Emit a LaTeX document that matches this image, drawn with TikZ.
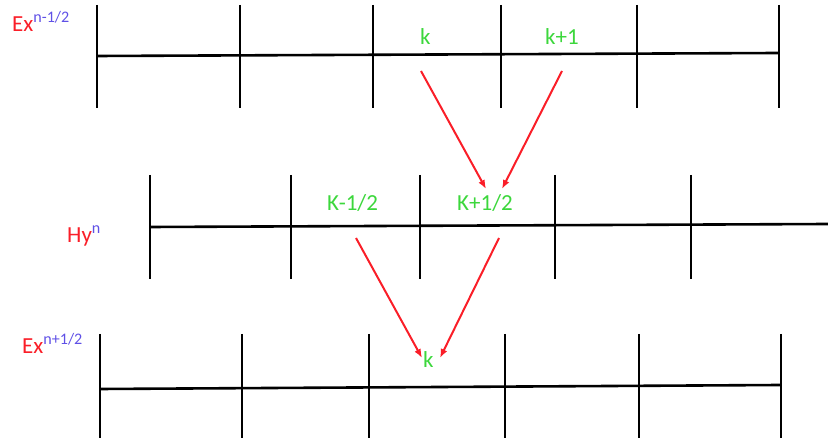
\documentclass[tikz,border=0pt]{standalone}
\usepackage{fontspec}
\setmainfont{Carlito}
\usepackage{xcolor}
\usepackage{tikz}
\usetikzlibrary{arrows.meta}

\definecolor{labred}{RGB}{250,30,40}
\definecolor{supblue}{RGB}{95,80,230}
\definecolor{idxgreen}{RGB}{60,215,60}

\begin{document}
\begin{tikzpicture}[
  x=1pt, y=-1pt,
  font=\fontsize{23}{27}\selectfont,
  grid/.style={line width=2.6pt, black},
  field/.style={anchor=base west, inner sep=0pt, text=labred},
  idx/.style={anchor=base west, inner sep=0pt, text=idxgreen},
  update/.style={-{Latex[length=9pt, width=7pt]}, line width=2pt, labred}
]
\useasboundingbox (0,0) rectangle (828,443);
% three staggered grids
\draw[grid] (97,56) -- (778,53);
\foreach \x in {97,240,373,501,637,779}
  \draw[grid] (\x,5) -- (\x,108);
\draw[grid] (150,227) -- (828,224);
\foreach \x in {150,291,420,555,691}
  \draw[grid] (\x,175) -- (\x,279);
\draw[grid] (100,389) -- (780,385);
\foreach \x in {100,242,369,505,639,781}
  \draw[grid] (\x,334) -- (\x,438);
% field names
\node[field] (exold) at (12,32) {Ex\textsuperscript{\color{supblue}n-1/2}};
\node[field] (hy) at (67,243) {Hy\textsuperscript{\color{supblue}n}};
\node[field] (exnew) at (22,354) {Ex\textsuperscript{\color{supblue}n+1/2}};
% indices
\node[idx] (k) at (420,45) {k};
\node[idx] (kp) at (545,45) {k+1};
\node[idx] (hm) at (327,211) {K-1/2};
\node[idx] (hp) at (457,211) {K+1/2};
\node[idx] (knew) at (423,368) {k};
% arrow ends
\coordinate (kfrom) at (421,71);
\coordinate (kpfrom) at (562,71);
\coordinate (hpto) at (486,189);
\coordinate (hpto2) at (502,189);
\coordinate (hmfrom) at (356,238);
\coordinate (hpfrom) at (499,238);
\coordinate (kto) at (422,358);
\coordinate (kto2) at (440,358);
\draw[update] (kfrom) -- (hpto);
\draw[update] (kpfrom) -- (hpto2);
\draw[update] (hmfrom) -- (kto);
\draw[update] (hpfrom) -- (kto2);
\end{tikzpicture}
\end{document}
